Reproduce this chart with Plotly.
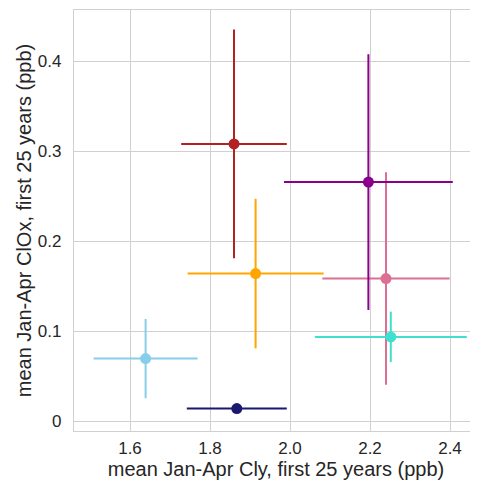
import plotly.graph_objects as go

# mean Jan-Apr values, first 25 years (ppb)
names = ["skyblue", "navy", "orange", "red", "pink", "turquoise", "purple"]
colors = ["#87CEEB", "#191970", "#FFA500", "#B22222", "#DB7093", "#40E0D0", "#8B008B"]
cly_mean = [1.639, 1.867, 1.914, 1.860, 2.240, 2.252, 2.196]
cly_err = [0.130, 0.125, 0.170, 0.132, 0.159, 0.190, 0.211]
clox_mean = [0.0696, 0.0141, 0.164, 0.308, 0.1585, 0.0937, 0.2656]
clox_err = [0.044, 0.002, 0.083, 0.127, 0.118, 0.028, 0.142]

fig = go.Figure()
for i in range(len(names)):
    fig.add_trace(go.Scatter(
        x=[cly_mean[i]], y=[clox_mean[i]],
        mode="markers",
        name=names[i],
        marker=dict(color=colors[i], size=11),
        error_x=dict(type="data", array=[cly_err[i]], color=colors[i], thickness=2, width=0),
        error_y=dict(type="data", array=[clox_err[i]], color=colors[i], thickness=2, width=0),
    ))

# page body keeps an 8px margin, so the figure is a bit smaller than the window
font = dict(family="Liberation Sans, Arial, sans-serif", size=17, color="#262626")
fig.update_layout(
    width=470, height=476,
    margin=dict(l=66, r=0, t=2, b=53),
    paper_bgcolor="white", plot_bgcolor="white",
    showlegend=False,
    font=font,
)
fig.update_xaxes(
    range=[1.46, 2.47], automargin=False,
    tickvals=[1.6, 1.8, 2.0, 2.2, 2.4], tickformat=".1f",
    showgrid=True, gridcolor="#d0d0d0", gridwidth=1.2,
    showline=True, linecolor="#d0d0d0", linewidth=1.2, mirror=True,
    zeroline=False, ticks="", ticklabelstandoff=1,
    title=dict(text="mean Jan-Apr Cly, first 25 years (ppb)", standoff=4),
)
fig.update_yaxes(
    range=[-0.0108, 0.4567], automargin=False,
    tickvals=[0, 0.1, 0.2, 0.3, 0.4],
    showgrid=True, gridcolor="#d0d0d0", gridwidth=1.2,
    showline=True, linecolor="#d0d0d0", linewidth=1.2,
    zeroline=False, ticks="", ticklabelstandoff=8,
    title=dict(text="mean Jan-Apr ClOx, first 25 years (ppb)", standoff=0),
)

fig.write_html("out.html")
